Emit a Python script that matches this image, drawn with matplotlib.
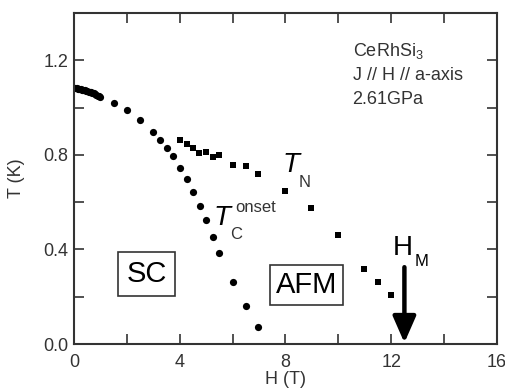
import matplotlib
matplotlib.use('Agg')
import matplotlib.pyplot as plt
from matplotlib.ticker import MultipleLocator

plt.rcParams['font.family'] = ['Liberation Sans', 'DejaVu Sans']
plt.rcParams['mathtext.fontset'] = 'custom'
plt.rcParams['mathtext.rm'] = 'Liberation Sans'
plt.rcParams['mathtext.it'] = 'Liberation Sans:italic'

# Tc onset (circles)
tc_h = [0.05, 0.1, 0.15, 0.2, 0.25, 0.3, 0.35, 0.4, 0.45, 0.5, 0.55, 0.6,
        0.65, 0.7, 0.75, 0.8, 0.85, 0.9, 0.95, 1.0,
        1.51, 2.0, 2.51, 3.0, 3.25, 3.5, 3.73, 4.0, 4.26, 4.49, 4.76, 4.99,
        5.25, 5.5, 6.0, 6.5, 6.97]
tc_t = [1.083, 1.082, 1.080, 1.079, 1.077, 1.076, 1.075, 1.073, 1.072, 1.070, 1.068, 1.066,
        1.064, 1.062, 1.060, 1.057, 1.054, 1.051, 1.047, 1.043,
        1.021, 0.989, 0.946, 0.897, 0.865, 0.829, 0.796, 0.745, 0.697, 0.641, 0.584, 0.524,
        0.453, 0.386, 0.263, 0.162, 0.073]

# TN (squares)
tn_h = [4.0, 4.26, 4.49, 4.74, 4.99, 5.25, 5.5, 6.0, 6.5, 6.97, 8.0, 8.96,
        9.97, 10.98, 11.49, 11.99]
tn_t = [0.862, 0.844, 0.831, 0.808, 0.812, 0.791, 0.801, 0.759, 0.753, 0.721, 0.646, 0.577,
        0.463, 0.316, 0.263, 0.206]

hm_field = 12.5
x_ticks = [0, 4, 8, 12, 16]
y_ticks = [0.0, 0.4, 0.8, 1.2]
y_ticklabels = ['0.0', '0.4', '0.8', '1.2']

fc = '#333333'

fig = plt.figure(figsize=(5.05, 3.92), dpi=100)
ax = fig.add_axes([0.1465, 0.1224, 0.8375, 0.8444])

ax.plot(tc_h, tc_t, 'o', color='black', markersize=5.2, markeredgewidth=0)
ax.plot(tn_h, tn_t, 's', color='black', markersize=5, markeredgewidth=0)

ax.set_xlim(0, 16)
ax.set_ylim(0, 1.4)
ax.set_xticks(x_ticks)
ax.set_yticks(y_ticks)
ax.set_yticklabels(y_ticklabels)
ax.xaxis.set_minor_locator(MultipleLocator(2))
ax.yaxis.set_minor_locator(MultipleLocator(0.2))
ax.tick_params(which='both', direction='in', top=True, right=True, length=7,
               width=1.2, color=fc, labelsize=13, labelcolor=fc)
ax.tick_params(axis='x', pad=7)
ax.tick_params(axis='y', pad=4)
for s in ax.spines.values():
    s.set_color(fc)
    s.set_linewidth(1.5)

ax.set_xlabel('H (T)', fontsize=13, color=fc, labelpad=0.5)
ax.set_ylabel('T (K)', fontsize=13, color=fc, labelpad=13)

# sample info
ax.text(10.54, 1.217, 'CeRhSi$_3$', fontsize=13, color=fc, va='baseline')
ax.text(10.54, 1.115, 'J // H // a-axis', fontsize=13, color=fc, va='baseline')
ax.text(10.54, 1.017, '2.61GPa', fontsize=13, color=fc, va='baseline')

# T_N label
ax.text(7.9, 0.727, 'T', fontsize=20, fontstyle='italic', color='black', va='baseline')
ax.text(8.51, 0.663, 'N', fontsize=12, color=fc, va='baseline')

# Tc onset label
ax.text(5.28, 0.503, 'T', fontsize=20, fontstyle='italic', color='black', va='baseline')
ax.text(6.09, 0.558, 'onset', fontsize=12, color=fc, va='baseline')
ax.text(5.9, 0.444, 'C', fontsize=12, color=fc, va='baseline')

# region labels
ax.text(2.74, 0.296, 'SC', fontsize=21, color='black', ha='center', va='center',
        bbox=dict(boxstyle='square,pad=0.28', fc='white', ec=fc, lw=1.2))
ax.text(8.8, 0.251, 'AFM', fontsize=21, color='black', ha='center', va='center',
        bbox=dict(boxstyle='square,pad=0.2', fc='white', ec=fc, lw=1.2))

# H_M arrow
ax.annotate('', xy=(hm_field, 0.005), xytext=(hm_field, 0.325),
            arrowprops=dict(arrowstyle='-|>,head_length=1.6,head_width=0.7',
                            color='black', lw=3.2, shrinkA=0, shrinkB=0))
ax.text(12.07, 0.376, 'H', fontsize=20, color='black', va='baseline')
ax.text(12.9, 0.33, 'M', fontsize=12, color='black', va='baseline')

fig.savefig('out.png', dpi=100)
